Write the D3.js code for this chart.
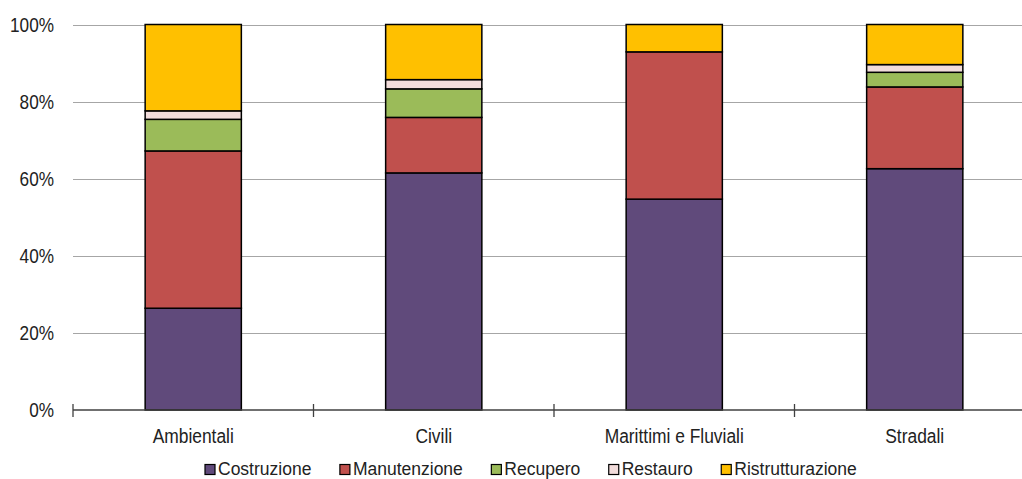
<!DOCTYPE html>
<html>
<head>
<meta charset="utf-8">
<script src="https://cdn.jsdelivr.net/npm/d3@7"></script>
<style>
  html, body { margin: 0; padding: 0; background: #fff; }
  svg { display: block; font-family: "Liberation Sans", Arial, sans-serif; }
</style>
</head>
<body>
<svg id="chart" width="1022" height="479"></svg>
<script>
// Quota percentuale per tipologia di intervento
const categories = ["Ambientali", "Civili", "Marittimi e Fluviali", "Stradali"];
const seriesNames = ["Costruzione", "Manutenzione", "Recupero", "Restauro", "Ristrutturazione"];
const costruzione      = [26.4, 61.5, 54.7, 62.6];
const manutenzione     = [40.8, 14.4, 38.2, 21.2];
const recupero         = [8.2, 7.4, 0, 3.8];
const restauro         = [2.2, 2.4, 0, 2.0];
const ristrutturazione = [22.4, 14.3, 7.1, 10.4];
const yTicks = [0, 20, 40, 60, 80, 100];
const colors = ["#604A7B", "#C0504D", "#9BBB59", "#F2DCDB", "#FFC000"];

const seriesValues = [costruzione, manutenzione, recupero, restauro, ristrutturazione];
const rows = categories.map((c, i) => {
  const r = { category: c };
  seriesNames.forEach((s, k) => { r[s] = seriesValues[k][i]; });
  return r;
});

const svg = d3.select("#chart");
const left = 73, step = 240.5;
const x = d3.scaleBand().domain(categories).range([left, left + step * categories.length]).padding(0);
const y = d3.scaleLinear().domain([0, 100]).range([410, 24.5]);
const color = d3.scaleOrdinal().domain(seriesNames).range(colors);
const barW = x.bandwidth() * 0.4;

// horizontal gridlines
svg.append("g").selectAll("line").data(yTicks.filter(t => t > 0)).join("line")
  .attr("x1", left).attr("x2", 1022)
  .attr("y1", d => Math.round(y(d)) + 0.5).attr("y2", d => Math.round(y(d)) + 0.5)
  .attr("stroke", "#a6a6a6").attr("stroke-width", 1);

// y labels (condensed)
svg.append("g").selectAll("g").data(yTicks).join("g")
  .attr("transform", d => `translate(54,${y(d) + 7.3}) scale(0.86,1)`)
  .append("text")
  .attr("text-anchor", "end")
  .attr("font-size", 20)
  .attr("fill", "#222")
  .text(d => d + "%");

// stacked bars
const stacked = d3.stack().keys(seriesNames)(rows);
svg.append("g").selectAll("g").data(stacked).join("g")
  .attr("fill", d => color(d.key))
  .selectAll("rect").data(d => d.filter(p => p[1] - p[0] > 0)).join("rect")
  .attr("x", d => x(d.data.category) + (x.bandwidth() - barW) / 2)
  .attr("width", barW)
  .attr("y", d => y(d[1]))
  .attr("height", d => y(d[0]) - y(d[1]))
  .attr("stroke", "#000")
  .attr("stroke-width", 1.5);

// x axis with boundary ticks
const axisY = 410;
svg.append("line")
  .attr("x1", left).attr("x2", 1022).attr("y1", axisY).attr("y2", axisY)
  .attr("stroke", "#404040").attr("stroke-width", 1.5);
const bounds = categories.map(c => x(c));
svg.append("g").selectAll("line").data(bounds).join("line")
  .attr("x1", d => d).attr("x2", d => d)
  .attr("y1", axisY - 6).attr("y2", axisY + 7)
  .attr("stroke", "#404040").attr("stroke-width", 1.3);

// category labels
svg.append("g").selectAll("g").data(categories).join("g")
  .attr("transform", d => `translate(${x(d) + x.bandwidth() / 2},443) scale(0.87,1)`)
  .append("text")
  .attr("text-anchor", "middle")
  .attr("font-size", 20)
  .attr("fill", "#222")
  .text(d => d);

// legend
const legend = svg.append("g");
let lx = 205;
seriesNames.forEach((s, i) => {
  legend.append("rect")
    .attr("x", lx).attr("y", 464.5).attr("width", 10).attr("height", 10)
    .attr("fill", colors[i]).attr("stroke", "#000").attr("stroke-width", 1.2);
  const t = legend.append("text")
    .attr("x", lx + 13).attr("y", 475)
    .attr("font-size", 17.5)
    .attr("fill", "#222")
    .text(s);
  lx += 13 + t.node().getComputedTextLength() + 28.5;
});
</script>
</body>
</html>
